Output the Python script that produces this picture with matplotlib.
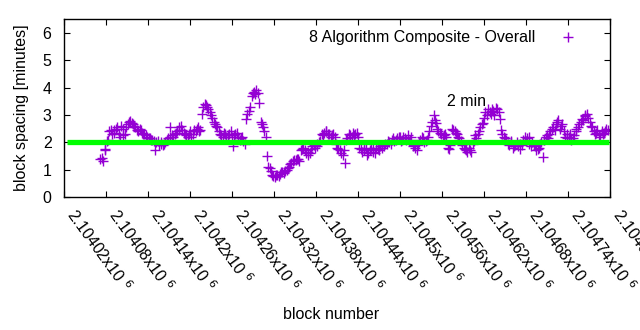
import numpy as np
import matplotlib.pyplot as plt
import matplotlib.transforms as mtransforms

plt.rcParams['font.family'] = ['Liberation Sans', 'DejaVu Sans']
plt.rcParams['font.size'] = 11.5

# block spacing, left to right; spacing and spacing_mid
# are alternating samples (spacing[0], spacing_mid[0], spacing[1], ...)
first_block = 2104072
last_block = 2104797
spacing = [
    1.38, 1.32, 1.75, 2.10, 2.45, 2.35, 2.50, 2.30, 2.60, 2.25,
    2.55, 2.75, 2.70, 2.60, 2.45, 2.50, 2.35, 2.30, 2.20, 2.15,
    2.10, 1.70, 2.05, 1.95, 1.90, 2.00, 2.15, 2.55, 2.20, 2.35,
    2.45, 2.60, 2.35, 2.25, 2.30, 2.20, 2.45, 2.50, 2.40, 3.05,
    3.40, 3.30, 3.10, 2.90, 2.65, 2.55, 2.30, 2.20, 2.30, 2.25,
    2.40, 1.85, 2.30, 2.20, 2.15, 2.05, 2.85, 3.15, 3.70, 3.85,
    3.90, 3.45, 2.65, 2.40, 1.50, 1.05, 0.80, 0.72, 0.80, 0.85,
    0.90, 0.95, 1.05, 1.20, 1.30, 1.35, 1.40, 1.70, 1.80, 1.60,
    1.55, 1.75, 1.90, 1.85, 2.00, 2.30, 2.35, 2.40, 2.30, 2.25,
    2.20, 1.80, 1.70, 1.55, 1.25, 2.15, 2.25, 2.35, 2.30, 2.20,
    1.75, 1.70, 1.80, 1.60, 1.75, 1.65, 1.80, 1.70, 1.90, 1.85,
    1.95, 2.00, 2.10, 2.05, 2.15, 2.20, 2.10, 2.15, 2.25, 2.10,
    1.85, 1.80, 1.90, 2.10, 2.15, 2.05, 2.20, 2.60, 3.00, 2.70,
    2.40, 2.30, 2.25, 2.20, 1.75, 2.50, 2.40, 2.30, 2.15, 1.90,
    1.75, 1.65, 1.70, 1.95, 2.25, 2.30, 2.55, 2.70, 3.10, 3.20,
    3.05, 3.15, 3.25, 3.10, 2.45, 2.20, 2.10, 1.90, 2.00, 1.85,
    2.00, 1.75, 1.90, 2.20, 2.15, 1.95, 2.00, 1.85, 1.75, 1.95,
    1.45, 2.20, 2.15, 2.40, 2.55, 2.65, 2.80, 2.60, 2.40, 2.30,
    2.20, 2.10, 2.25, 2.50, 2.65, 2.85, 2.95, 3.05, 2.75, 2.55,
    2.30, 2.45, 2.20, 2.30, 2.40, 2.45,
]
spacing_mid = [
    1.42, 1.72, 2.05, 2.40, 2.30, 2.45, 2.55, 2.20, 2.50, 2.30,
    2.65, 2.78, 2.65, 2.55, 2.40, 2.45, 2.30, 2.25, 2.15, 2.10,
    2.05, 2.00, 1.90, 2.00, 1.95, 2.10, 2.20, 2.25, 2.30, 2.40,
    2.55, 2.45, 2.30, 2.20, 2.40, 2.30, 2.40, 2.55, 2.45, 3.30,
    3.35, 3.20, 3.00, 2.75, 2.60, 2.40, 2.25, 2.35, 2.20, 2.30,
    2.20, 2.25, 2.35, 2.10, 2.20, 1.95, 3.05, 3.30, 3.80, 3.75,
    3.80, 2.75, 2.55, 2.20, 1.10, 0.95, 0.75, 0.82, 0.78, 0.90,
    0.88, 1.00, 1.10, 1.25, 1.35, 1.40, 1.30, 1.75, 1.70, 1.65,
    1.60, 1.85, 1.80, 1.95, 2.05, 2.25, 2.40, 2.30, 2.20, 2.30,
    1.95, 1.75, 1.60, 1.70, 2.10, 2.30, 2.20, 2.25, 2.35, 1.80,
    1.65, 1.75, 1.55, 1.70, 1.80, 1.60, 1.75, 1.85, 1.80, 1.95,
    2.05, 1.95, 2.15, 2.10, 2.20, 2.05, 2.20, 2.10, 2.05, 2.20,
    1.90, 1.70, 2.00, 2.20, 2.00, 2.10, 2.40, 2.75, 2.80, 2.50,
    2.35, 2.20, 2.30, 1.80, 1.90, 2.45, 2.35, 2.20, 2.05, 1.80,
    1.70, 1.80, 1.65, 2.05, 2.15, 2.40, 2.65, 2.90, 3.00, 3.10,
    3.20, 3.00, 3.20, 2.85, 2.30, 2.15, 1.95, 2.05, 1.80, 1.90,
    1.85, 1.95, 2.10, 2.05, 2.20, 1.85, 1.90, 1.70, 1.80, 2.00,
    2.10, 2.25, 2.30, 2.50, 2.45, 2.75, 2.50, 2.65, 2.20, 2.15,
    2.30, 2.15, 2.40, 2.55, 2.75, 2.80, 3.00, 2.90, 2.60, 2.40,
    2.35, 2.25, 2.40, 2.35, 2.50,
]
n = len(spacing) + len(spacing_mid)
values = np.empty(n)
values[0::2] = spacing
values[1::2] = spacing_mid
blocks = np.round(np.linspace(first_block, last_block, n))

target = 2.0
target_span = [2104024, 2104798]
x_range = [2104020, 2104800]
xticks = np.arange(2104020, 2104801, 60)
xtick_labels = ["%gx10 $^{6}$" % (t / 1e6) for t in xticks]

fig = plt.figure(figsize=(6.4, 3.3), dpi=100)
ax = fig.add_axes([0.1, 0.403, 0.853, 0.539])

ax.plot(blocks, values, linestyle='none', marker='+', markersize=7,
        markeredgewidth=1.0, color='#9400d3', label='8 Algorithm Composite - Overall')
ax.plot(target_span, [target, target], color='#00ff00', linewidth=3.8,
        solid_capstyle='butt', zorder=3)
ax.text(2104595, 3.48, '2 min', ha='center', va='center')

ax.set_xlim(x_range)
ax.set_ylim(0, 6.5)
ax.set_yticks(range(7))
ax.tick_params(direction='in', top=True, right=True, length=4, width=0.8)
ax.tick_params(axis='y', pad=9)
ax.set_xticks(xticks)
ax.set_xticklabels(xtick_labels, rotation=-54, ha='left', va='top',
                   rotation_mode='anchor')
offset = mtransforms.ScaledTranslation(0.14, -0.04, fig.dpi_scale_trans)
for lab in ax.get_xticklabels():
    lab.set_transform(lab.get_transform() + offset)

for s in ax.spines.values():
    s.set_linewidth(1.0)

ax.set_xlabel('block number')
ax.xaxis.set_label_coords(0.49, -0.62)
ax.set_ylabel('block spacing [minutes]')
ax.yaxis.set_label_coords(-0.064, 0.5)

ax.legend(loc='upper right', frameon=False, markerfirst=False,
          handlelength=2.5, borderaxespad=0.3, bbox_to_anchor=(0.98, 1.0))

fig.savefig('out.png', dpi=100)
